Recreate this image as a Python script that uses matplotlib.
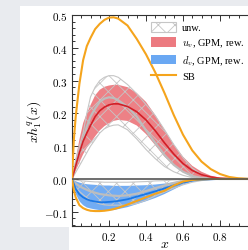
import matplotlib
matplotlib.use("Agg")
import matplotlib.pyplot as plt
from matplotlib.patches import Rectangle, Patch
from matplotlib.lines import Line2D
from matplotlib.ticker import MultipleLocator, FixedLocator, FuncFormatter

plt.rcParams['mathtext.fontset'] = 'cm'
plt.rcParams['font.family'] = ['Liberation Serif', 'DejaVu Serif']
plt.rcParams['hatch.linewidth'] = 0.6

# ---------------- data ----------------
x = [0, 0.01, 0.02, 0.04, 0.06, 0.08, 0.1, 0.125, 0.15, 0.175, 0.2, 0.225, 0.25,
     0.3, 0.35, 0.4, 0.45, 0.5, 0.55, 0.6, 0.65, 0.7, 0.75, 0.8, 0.85, 0.9, 0.95, 1.0]

# SB model
sb_u = [0, 0.12, 0.19, 0.29, 0.362, 0.405, 0.43, 0.457, 0.473, 0.485, 0.492, 0.493, 0.489,
        0.468, 0.427, 0.38, 0.325, 0.262, 0.195, 0.135, 0.087, 0.053, 0.03, 0.015, 0.006, 0.002, 0, 0]
sb_d = [0, -0.035, -0.056, -0.08, -0.089, -0.094, -0.097, -0.098, -0.098, -0.097, -0.095, -0.092, -0.088,
        -0.078, -0.067, -0.056, -0.045, -0.036, -0.02, -0.008, -0.003, -0.001, 0, 0, 0, 0, 0, 0]

# u_v, GPM, reweighted
u_mid = [0, 0.02, 0.04, 0.08, 0.115, 0.14, 0.163, 0.19, 0.208, 0.219, 0.226, 0.229, 0.229,
         0.221, 0.205, 0.18, 0.147, 0.11, 0.076, 0.047, 0.026, 0.013, 0.006, 0.002, 0.001, 0, 0, 0]
u_hi = [0, 0.03, 0.06, 0.12, 0.17, 0.2, 0.225, 0.255, 0.272, 0.281, 0.285, 0.287, 0.287,
        0.28, 0.262, 0.235, 0.195, 0.15, 0.105, 0.068, 0.04, 0.022, 0.01, 0.004, 0.001, 0, 0, 0]
u_lo = [0, 0.012, 0.025, 0.05, 0.075, 0.095, 0.11, 0.13, 0.148, 0.161, 0.17, 0.177, 0.18,
        0.177, 0.163, 0.137, 0.103, 0.068, 0.042, 0.022, 0.01, 0.004, 0.002, 0.001, 0, 0, 0, 0]

# d_v, GPM, reweighted
d_mid = [0, -0.015, -0.03, -0.047, -0.056, -0.062, -0.066, -0.069, -0.071, -0.071, -0.07, -0.069, -0.067,
         -0.062, -0.054, -0.046, -0.038, -0.029, -0.02, -0.011, -0.005, -0.002, -0.001, 0, 0, 0, 0, 0]
d_hi = [0, -0.004, -0.007, -0.011, -0.014, -0.016, -0.017, -0.018, -0.019, -0.02, -0.02, -0.021, -0.021,
        -0.021, -0.02, -0.019, -0.017, -0.014, -0.01, -0.006, -0.003, -0.001, 0, 0, 0, 0, 0, 0]
d_lo = [0, -0.025, -0.045, -0.068, -0.08, -0.087, -0.09, -0.093, -0.095, -0.096, -0.096, -0.095, -0.092,
        -0.086, -0.077, -0.068, -0.058, -0.046, -0.032, -0.018, -0.008, -0.003, -0.001, 0, 0, 0, 0, 0]

# unweighted (hatched)
uw_u_mid = [0, 0.02, 0.04, 0.08, 0.12, 0.16, 0.19, 0.215, 0.235, 0.245, 0.249, 0.247, 0.24,
            0.22, 0.19, 0.148, 0.11, 0.073, 0.043, 0.022, 0.009, 0.003, 0.001, 0, 0, 0, 0, 0]
uw_u_hi = [0, 0.03, 0.06, 0.1, 0.14, 0.2, 0.25, 0.28, 0.3, 0.31, 0.315, 0.315, 0.31,
           0.288, 0.26, 0.227, 0.193, 0.15, 0.105, 0.065, 0.033, 0.014, 0.005, 0.001, 0, 0, 0, 0]
uw_u_lo = [0, 0.01, 0.02, 0.04, 0.06, 0.08, 0.1, 0.12, 0.14, 0.153, 0.16, 0.164, 0.165,
           0.15, 0.122, 0.09, 0.062, 0.038, 0.022, 0.011, 0.004, 0.001, 0, 0, 0, 0, 0, 0]
uw_d_mid = [0, -0.008, -0.014, -0.022, -0.028, -0.033, -0.038, -0.042, -0.046, -0.048, -0.05, -0.051, -0.052,
            -0.05, -0.045, -0.037, -0.028, -0.02, -0.012, -0.006, -0.003, -0.001, 0, 0, 0, 0, 0, 0]
uw_d_hi = [0, -0.002, -0.003, -0.005, -0.006, -0.007, -0.008, -0.009, -0.009, -0.01, -0.01, -0.01, -0.01,
           -0.01, -0.009, -0.008, -0.006, -0.005, -0.003, -0.002, -0.001, 0, 0, 0, 0, 0, 0, 0]
uw_d_lo = [0, -0.015, -0.025, -0.038, -0.048, -0.057, -0.065, -0.071, -0.076, -0.079, -0.08, -0.08, -0.08,
           -0.08, -0.075, -0.065, -0.052, -0.04, -0.028, -0.018, -0.01, -0.005, -0.002, 0, 0, 0, 0, 0]

xticks = [0.2, 0.4, 0.6, 0.8]
yticks = [-0.1, 0.0, 0.1, 0.2, 0.3, 0.4, 0.5]
labels = ['unw.', r'$u_v$, GPM, rew.', r'$d_v$, GPM, rew.', 'SB']

# ---------------- colours ----------------
c_red_fill = '#ec7a80'
c_red_line = '#d21f27'
c_blue_fill = '#6aa8f3'
c_blue_line = '#1a78e6'
c_gray = '#bdbdbd'
c_hatch = '#c6c6c6'
c_orange = '#f5a41c'

# ---------------- figure ----------------
W, H = 248, 251
fig = plt.figure(figsize=(W / 100, H / 100), dpi=100)
fig.patch.set_facecolor('#e9ebef')
fig.add_artist(Rectangle((20 / W, 23 / H), 228 / W, 221 / H, transform=fig.transFigure,
                         facecolor='white', edgecolor='none', zorder=-10))
fig.add_artist(Rectangle((69 / W, 0), 179 / W, 23 / H, transform=fig.transFigure,
                         facecolor='white', edgecolor='none', zorder=-10))

ax = fig.add_axes([72 / W, 24 / H, 185 / W, 211 / H])
ax.set_facecolor('none')

ax.fill_between(x, u_lo, u_hi, facecolor=c_red_fill, edgecolor='none', alpha=0.95, zorder=1)
ax.fill_between(x, d_lo, d_hi, facecolor=c_blue_fill, edgecolor='none', alpha=0.95, zorder=1)
ax.fill_between(x, uw_u_lo, uw_u_hi, facecolor='none', edgecolor=c_hatch, hatch='xx',
                linewidth=0.8, zorder=2)
ax.fill_between(x, uw_d_lo, uw_d_hi, facecolor='none', edgecolor=c_hatch, hatch='xx',
                linewidth=0.8, zorder=2)
ax.plot(x, uw_u_mid, color=c_gray, lw=1.6, zorder=3)
ax.plot(x, uw_d_mid, color=c_gray, lw=1.6, zorder=3)
ax.plot(x, u_mid, color=c_red_line, lw=1.2, zorder=4)
ax.plot(x, d_mid, color=c_blue_line, lw=1.3, zorder=4)
ax.plot(x, sb_u, color=c_orange, lw=1.5, zorder=5)
ax.plot(x, sb_d, color=c_orange, lw=1.5, zorder=5)
ax.axhline(0, color='#555555', lw=1.2, zorder=6)

ax.set_xlim(0, 1)
ax.set_ylim(-0.1435, 0.5)
ax.xaxis.set_major_locator(FixedLocator(xticks))
ax.xaxis.set_minor_locator(MultipleLocator(0.05))
ax.yaxis.set_major_locator(FixedLocator(yticks))
ax.yaxis.set_minor_locator(MultipleLocator(0.02))
fmt = FuncFormatter(lambda v, p: '$%.1f$' % (0.0 if abs(v) < 1e-9 else v))
ax.xaxis.set_major_formatter(fmt)
ax.yaxis.set_major_formatter(fmt)
ax.tick_params(which='both', direction='in', top=True, right=True, labelsize=8, pad=3,
               color='#333333', width=0.7)
ax.tick_params(which='major', length=4)
ax.tick_params(which='minor', length=2)
for s in ax.spines.values():
    s.set_linewidth(0.8)
    s.set_color('#333333')

ax.set_ylabel(r'$xh_1^q(x)$', fontsize=10)
ax.yaxis.set_label_coords(-0.15, 0.5)
ax.set_xlabel(r'$x$', fontsize=10)
ax.xaxis.set_label_coords(0.5, -0.05)

handles = [Patch(facecolor='white', edgecolor=c_hatch, hatch='xx', linewidth=0.8),
           Patch(facecolor=c_red_fill, edgecolor='none'),
           Patch(facecolor=c_blue_fill, edgecolor='none'),
           Line2D([], [], color=c_orange, lw=1.5)]
fig.legend(handles, labels, loc='upper left', bbox_to_anchor=(151 / W, 1 - 23 / H),
           bbox_transform=fig.transFigure, frameon=False, fontsize=7.5,
           handlelength=2.4, handleheight=1.05, handletextpad=0.6, labelspacing=0.4,
           borderpad=0, borderaxespad=0)

fig.savefig('out.png', dpi=100, facecolor=fig.get_facecolor())
